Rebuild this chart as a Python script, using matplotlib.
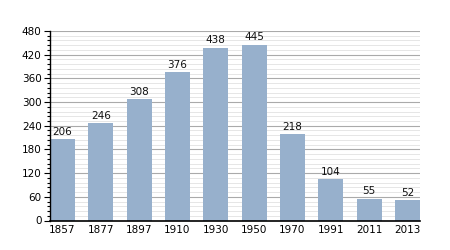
import matplotlib
matplotlib.use('Agg')
import matplotlib.pyplot as plt
from matplotlib.ticker import MultipleLocator

years = ['1857', '1877', '1897', '1910', '1930', '1950', '1970', '1991', '2011', '2013']
population = [206, 246, 308, 376, 438, 445, 218, 104, 55, 52]

bar_color = '#97b0cc'
w = 0.65

fig = plt.figure(figsize=(4.5, 2.5), dpi=100)
ax = fig.add_axes([0.111, 0.118, 0.822, 0.758])

x = list(range(len(years)))
bars = ax.bar(x, population, width=w, color=bar_color, zorder=3)

for xi, v in zip(x, population):
    ax.text(xi, v + 6, str(v), ha='center', va='bottom', fontsize=7.5, color='#111111', zorder=4)

ax.set_xlim(-w / 2, len(years) - 1 + w / 2)
ax.set_ylim(0, 480)
ax.yaxis.set_major_locator(MultipleLocator(60))
ax.yaxis.set_minor_locator(MultipleLocator(12))
ax.grid(True, which='major', axis='y', color='#aaaaaa', lw=0.8, zorder=1)
ax.grid(True, which='minor', axis='y', color='#e6e6e6', lw=0.7, zorder=0)

ax.set_xticks(x)
ax.set_xticklabels(years)
ax.tick_params(axis='x', length=0, labelsize=7.5, pad=3)
ax.tick_params(axis='y', which='major', length=4, width=0.8, labelsize=7.5, pad=2)
ax.tick_params(axis='y', which='minor', length=2, width=0.8)

for s in ['top', 'right']:
    ax.spines[s].set_visible(False)
ax.spines['left'].set_linewidth(1.0)
ax.spines['bottom'].set_linewidth(1.2)
ax.spines['left'].set_zorder(5)
ax.spines['bottom'].set_zorder(5)

plt.savefig('out.png', dpi=100)
